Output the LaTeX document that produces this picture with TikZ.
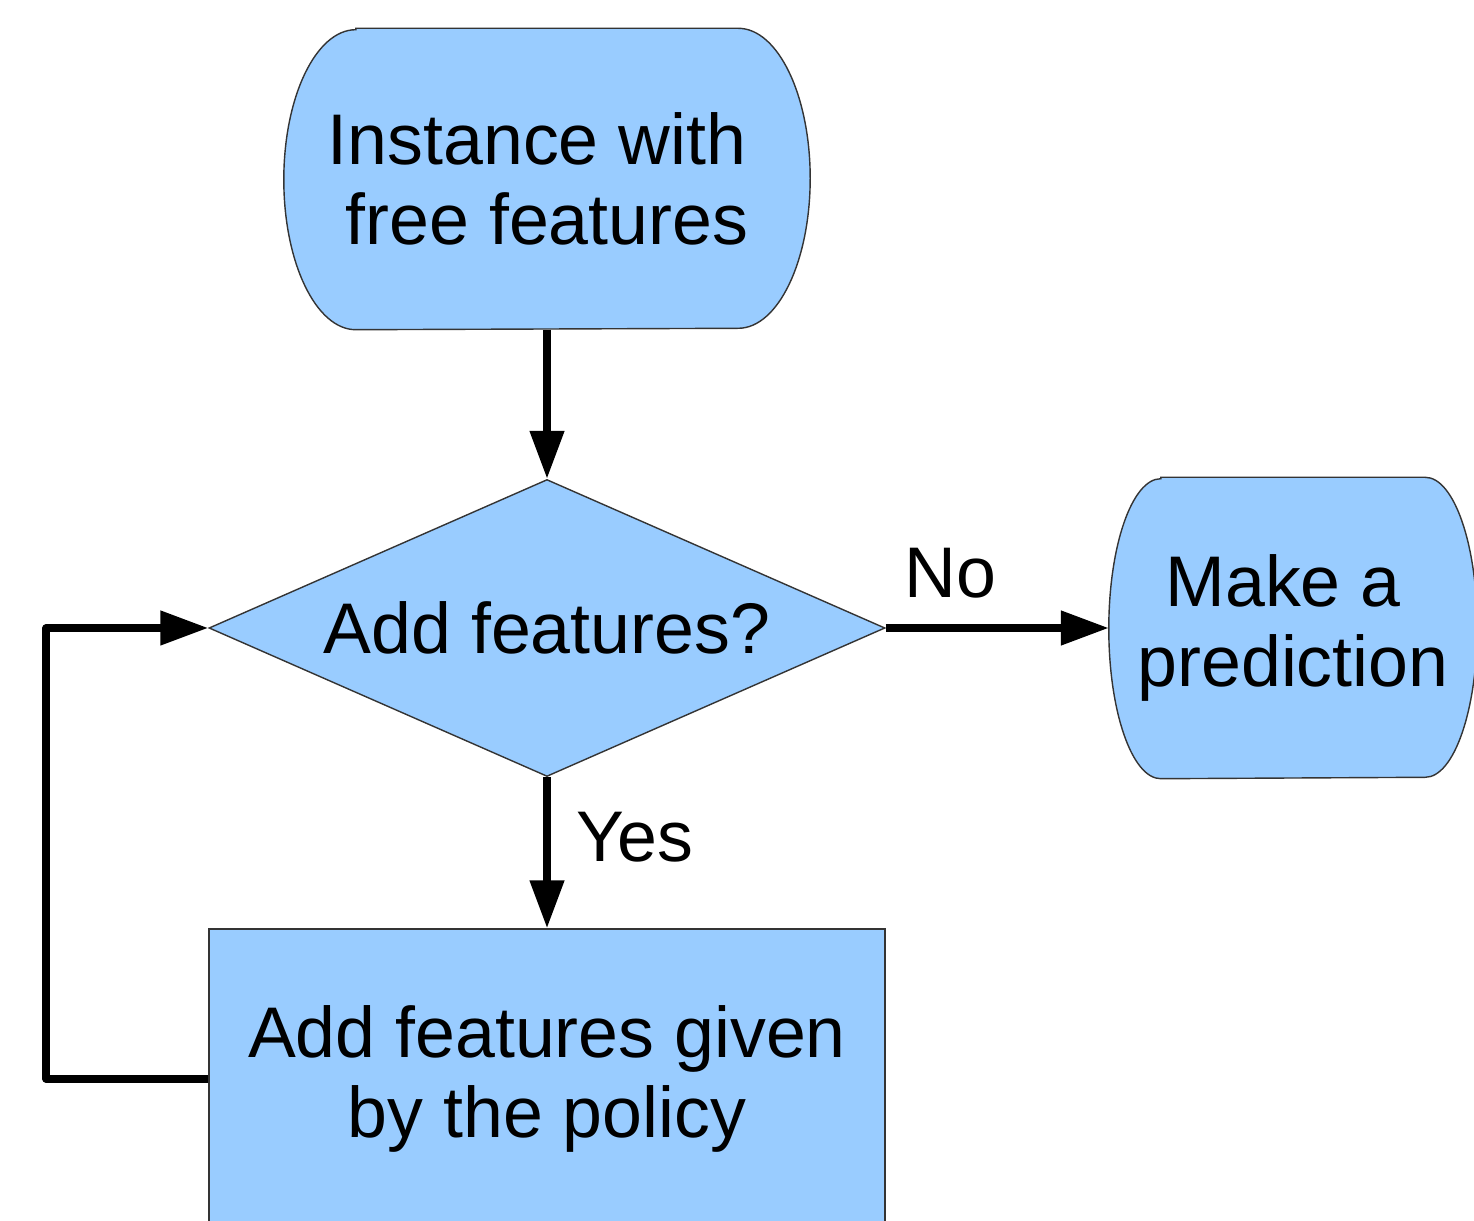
\documentclass[tikz,border=0pt]{standalone}
\usepackage{fontspec}
\setmainfont{Liberation Sans}
\usetikzlibrary{shapes.geometric, arrows.meta, calc, backgrounds}
\definecolor{boxblue}{RGB}{153,204,255}
\definecolor{edgegray}{RGB}{52,52,52}
\tikzset{
    every node/.style={font=\fontsize{20.4pt}{22.8pt}\selectfont,
        align=center},
    process/.style={rectangle, draw=edgegray, fill=boxblue, thin,
        inner sep=0pt, minimum width=6.76cm, minimum height=3cm},
    decision/.style={diamond, aspect=2.276, draw=edgegray, fill=boxblue,
        thin, inner sep=0pt, minimum width=6.76cm, minimum height=2.97cm},
    terminal/.style={inner sep=0pt, minimum height=3cm},
    flow/.style={line width=2.2pt, line join=round,
        -{Triangle[length=4.8mm, width=3.3mm]}},
}
% flat rounded ends of a terminal node, filled behind its text
\newcommand{\terminalshape}[2]{%
    \filldraw[fill=boxblue, draw=edgegray, thin]
        ($(#1.north west)+(#2,0)$) -- ($(#1.north east)-(#2,0)$)
        arc[start angle=90, end angle=-90, x radius=#2, y radius=1.5cm]
        -- ($(#1.south west)+(#2,0)$)
        arc[start angle=270, end angle=90, x radius=#2, y radius=1.5cm]
        -- cycle;
}

\begin{document}
\begin{tikzpicture}
    \useasboundingbox (0, 0) rectangle (14.74, 12.20);
    \node[terminal, minimum width=5.25cm] (start) at (5.47, 10.41)
        {Instance with\ \mbox{}\\free features};
    \node[decision] (ask) at (5.47, 5.92) {Add features?};
    \node[terminal, minimum width=3.67cm] (predict) at (12.93, 5.92)
        {Make a\ \mbox{}\\prediction};
    \node[process] (policy) at (5.47, 1.41)
        {Add features given\\by the policy};
    \begin{scope}[on background layer]
        \terminalshape{start}{0.72cm}
        \terminalshape{predict}{0.52cm}
    \end{scope}
    \draw[flow] (start.south) -- (ask.north);
    \draw[flow] (ask.east) -- (predict.west) node[pos=.29, above,
        yshift=4pt] {No};
    \draw[flow] (ask.south) -- (policy.north) node[pos=.4, right,
        xshift=4pt] {Yes};
    \draw[flow] (policy.west) -- ++(-1.62, 0) |- (ask.west);
\end{tikzpicture}
\end{document}
